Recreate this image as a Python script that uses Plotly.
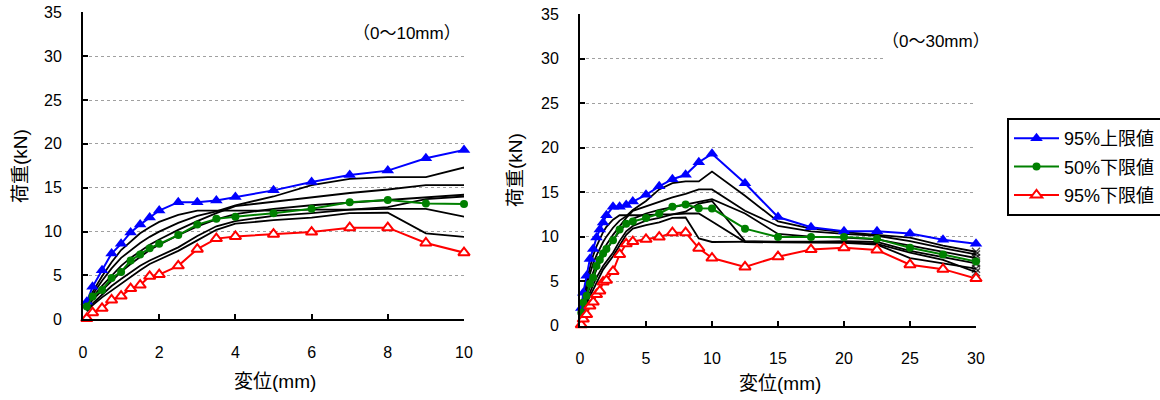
import plotly.graph_objects as go

# Displacement (mm) at which every load reading was taken
disp = [0.1, 0.25, 0.5, 0.75, 1.0, 1.25, 1.5, 1.75, 2.0, 2.5, 3.0, 3.5, 4.0,
        5.0, 6.0, 7.0, 8.0, 9.0, 10.0, 12.5, 15.0, 17.5, 20.0, 22.5, 25.0, 27.5, 30.0]

# Statistical bounds (kN)
upper95 = [2.0, 3.7, 5.6, 7.5, 8.6, 9.9, 10.8, 11.6, 12.4, 13.35, 13.35, 13.55, 13.95,
           14.7, 15.65, 16.45, 16.95, 18.35, 19.3, 16.0, 12.2, 11.05, 10.6, 10.6, 10.35, 9.65, 9.2]
lower50 = [1.45, 2.6, 3.35, 4.7, 5.4, 6.7, 7.4, 8.1, 8.6, 9.6, 10.8, 11.45, 11.7,
           12.1, 12.6, 13.35, 13.6, 13.2, 13.15, 10.9, 9.95, 9.95, 9.95, 9.75, 8.75, 8.0, 7.2]
lower95 = [0.1, 0.75, 1.25, 2.2, 2.65, 3.5, 3.9, 4.9, 5.1, 6.1, 8.0, 9.2, 9.45,
           9.7, 9.95, 10.45, 10.45, 8.7, 7.6, 6.6, 7.75, 8.55, 8.75, 8.5, 6.85, 6.35, 5.3]

# Individual specimen curves (kN)
spec1 = [1.6, 2.8, 4.4, 5.8, 7.0, 7.9, 8.7, 9.4, 10.0, 11.0, 11.8, 12.3, 13.0,
         14.0, 15.3, 16.0, 16.2, 16.2, 17.3, 14.6, 11.7, 10.9, 10.5, 10.2, 9.9, 9.0, 8.3]
spec2 = [1.5, 2.5, 3.8, 5.0, 6.1, 7.0, 7.8, 8.5, 9.1, 10.2, 11.2, 12.1, 12.9,
         13.4, 13.9, 14.4, 14.8, 15.3, 15.3, 12.9, 11.2, 10.6, 10.3, 10.1, 9.5, 8.7, 8.0]
spec3 = [1.3, 2.2, 3.3, 4.4, 5.4, 6.3, 7.1, 7.9, 8.5, 9.6, 10.6, 11.4, 12.0,
         12.6, 13.0, 13.3, 13.6, 13.9, 14.2, 12.6, 10.3, 10.0, 9.9, 9.7, 9.0, 8.3, 7.6]
spec4 = [1.0, 1.8, 2.8, 3.8, 4.6, 5.4, 6.1, 6.7, 7.2, 8.2, 9.5, 10.6, 11.2,
         11.8, 12.1, 12.5, 12.8, 13.7, 14.0, 9.5, 9.4, 9.4, 9.5, 9.4, 8.4, 7.7, 7.0]
spec5 = [1.8, 3.1, 4.9, 6.5, 7.9, 8.9, 9.8, 10.5, 11.1, 11.9, 12.4, 12.4, 12.4,
         12.4, 12.5, 12.5, 12.6, 12.6, 11.7, 9.4, 9.35, 9.3, 9.3, 9.1, 7.6, 7.0, 6.4]
spec6 = [0.9, 1.6, 2.5, 3.3, 4.1, 4.9, 5.6, 6.3, 6.8, 7.8, 9.0, 10.2, 10.9,
         11.3, 11.6, 12.1, 12.15, 9.8, 9.4, 9.45, 9.45, 9.45, 9.4, 9.2, 8.2, 7.4, 6.0]
specimens = [spec1, spec2, spec3, spec4, spec5, spec6]

bound_names = ["95%上限値", "50%下限値", "95%下限値"]

W, H = 1160, 400
FONT = "Liberation Sans, Arial, Noto Sans CJK JP"


def fx(px):
    return px / W


def fy(py):
    return 1 - py / H


bound_styles = [
    (upper95, "#0000FF", dict(symbol="triangle-up", size=11, color="#0000FF")),
    (lower50, "#008000", dict(symbol="circle", size=8, color="#008000")),
    (lower95, "#FF0000", dict(symbol="triangle-up", size=10, color="white",
                              line=dict(color="#FF0000", width=2))),
]

fig = go.Figure()

# ---- left panel (0-10 mm): lines clipped at the axis, markers kept whole
for s in specimens:
    fig.add_trace(go.Scatter(x=disp, y=s, mode="lines", xaxis="x", yaxis="y",
                             line=dict(color="black", width=1.8),
                             showlegend=False, hoverinfo="skip"))
for (vals, col, mk), name in zip(bound_styles, bound_names):
    fig.add_trace(go.Scatter(x=disp, y=vals, mode="lines", xaxis="x", yaxis="y",
                             line=dict(color=col, width=2),
                             showlegend=False, hoverinfo="skip"))
    xs = [d for d in disp if d <= 10]
    ys = [v for d, v in zip(disp, vals) if d <= 10]
    fig.add_trace(go.Scatter(x=xs, y=ys, mode="markers", xaxis="x", yaxis="y",
                             marker=mk, cliponaxis=False,
                             showlegend=False, hoverinfo="skip"))

# ---- right panel (0-30 mm)
n = len(disp)
for s in specimens:
    fig.add_trace(go.Scatter(x=disp, y=s, mode="lines+markers", xaxis="x2", yaxis="y2",
                             line=dict(color="black", width=1.8),
                             marker=dict(symbol="x-thin", size=[0] * (n - 1) + [8],
                                         line=dict(color="black", width=1.5)),
                             cliponaxis=False, showlegend=False, hoverinfo="skip"))
for i, ((vals, col, mk), name) in enumerate(zip(bound_styles, bound_names)):
    fig.add_trace(go.Scatter(x=disp, y=vals, mode="lines+markers", name=name,
                             xaxis="x2", yaxis="y2", legendgroup=f"g{i}",
                             line=dict(color=col, width=2), marker=mk,
                             cliponaxis=False, showlegend=True))

axis_common = dict(showline=True, linecolor="black", linewidth=2, automargin=False,
                   ticks="inside", ticklen=5, tickwidth=1.5, tickcolor="black",
                   zeroline=False, tickfont=dict(family=FONT, size=16, color="black"))
grid = dict(showgrid=True, gridcolor="#a0a0a0", griddash="dot", gridwidth=1)

fig.update_layout(
    template="none",
    width=W, height=H,
    margin=dict(l=0, r=0, t=0, b=0, autoexpand=False),
    paper_bgcolor="white", plot_bgcolor="white",
    font=dict(family=FONT, color="black"),
    xaxis=dict(domain=[fx(83), fx(464)], range=[0, 10], dtick=2, anchor="y",
               showgrid=False, ticklabelstandoff=17, **axis_common),
    yaxis=dict(domain=[fy(319.3), fy(12.3)], range=[0, 35], dtick=5, anchor="x",
               ticklabelstandoff=16, **grid, **axis_common),
    xaxis2=dict(domain=[fx(580), fx(976)], range=[0, 30], dtick=5, anchor="y2",
                showgrid=False, ticklabelstandoff=17, **axis_common),
    yaxis2=dict(domain=[fy(325.7), fy(14)], range=[0, 35], dtick=5, anchor="x2",
                ticklabelstandoff=16, **grid, **axis_common),
    legend=dict(x=fx(1007), y=fy(118), xanchor="left", yanchor="top",
                bordercolor="black", borderwidth=2, bgcolor="white",
                font=dict(family=FONT, size=18, color="black"),
                itemwidth=45, traceorder="grouped", tracegroupgap=2),
    shapes=[
        dict(type="rect", xref="paper", yref="paper", x0=fx(356), x1=fx(460),
             y0=fy(50), y1=fy(2), fillcolor="white", line=dict(width=0), layer="above"),
        dict(type="rect", xref="paper", yref="paper", x0=fx(885), x1=fx(990),
             y0=fy(66), y1=fy(22), fillcolor="white", line=dict(width=0), layer="above"),
    ],
)


def label(text, x, y, size, angle=0):
    fig.add_annotation(text=text, x=fx(x), y=fy(y), xref="paper", yref="paper",
                       xanchor="center", yanchor="middle", textangle=angle,
                       showarrow=False, font=dict(family=FONT, size=size, color="black"))


label("荷重(kN)", 20, 166, 19, -90)
label("荷重(kN)", 515, 170, 19, -90)
label("変位(mm)", 275, 381, 19)
label("変位(mm)", 780, 383, 19)
label("（0〜10mm）", 407, 33, 17)
label("（0〜30mm）", 936, 42, 17)

fig.write_html("out.html")
